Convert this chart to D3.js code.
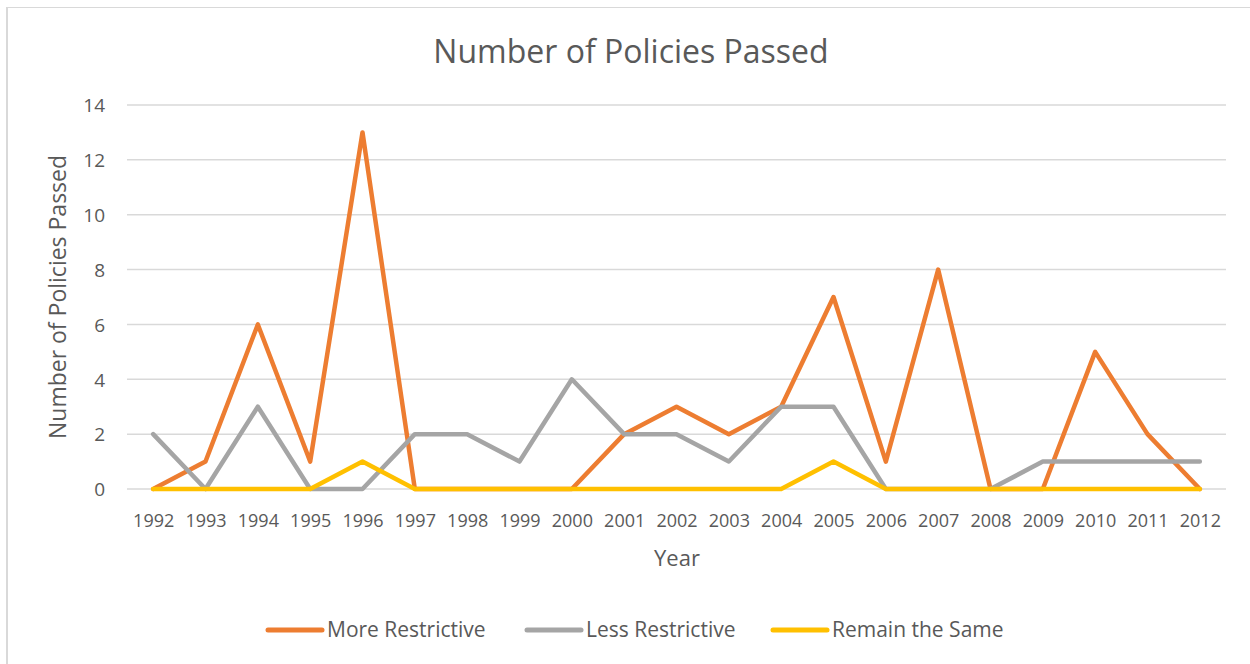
<!DOCTYPE html>
<html><head><meta charset="utf-8">
<script src="https://cdn.jsdelivr.net/npm/d3@7"></script>
<style>body{margin:0;background:#fff;}text{font-family:"Open Sans",sans-serif;fill:#595959;}</style>
</head><body>
<svg id="c" width="1250" height="664"></svg>
<script>
const years = ["1992","1993","1994","1995","1996","1997","1998","1999","2000","2001","2002","2003","2004","2005","2006","2007","2008","2009","2010","2011","2012"];
const moreRestrictive = [0,1,6,1,13,0,0,0,0,2,3,2,3,7,1,8,0,0,5,2,0];
const lessRestrictive = [2,0,3,0,0,2,2,1,4,2,2,1,3,3,0,0,0,1,1,1,1];
const remainSame = [0,0,0,0,1,0,0,0,0,0,0,0,0,1,0,0,0,0,0,0,0];
const yTicks = [0,2,4,6,8,10,12,14];
const seriesNames = ["More Restrictive","Less Restrictive","Remain the Same"];
const colors = ["#ED7D31","#A5A5A5","#FFC000"];
const series = [moreRestrictive, lessRestrictive, remainSame];

const svg = d3.select("#c");
// chart border (right/bottom edges fall outside the view)
svg.append("line").attr("x1",7).attr("x2",7).attr("y1",7).attr("y2",664).attr("stroke","#d9d9d9").attr("stroke-width",2);
svg.append("line").attr("x1",6).attr("x2",1250).attr("y1",7.5).attr("y2",7.5).attr("stroke","#d9d9d9").attr("stroke-width",1);

const x = d3.scalePoint().domain(years).range([127,1226]).padding(0.5);
const y = d3.scaleLinear().domain([0,14]).range([489,105]);

// grid
svg.append("g").selectAll("line").data(yTicks).join("line")
  .attr("x1",127).attr("x2",1226).attr("y1",d=>y(d)).attr("y2",d=>y(d))
  .attr("stroke","#d9d9d9").attr("stroke-width",1.5);

// y axis
const ya = svg.append("g").attr("transform","translate(127,0)")
  .call(d3.axisLeft(y).tickValues(yTicks).tickSize(0).tickPadding(22));
ya.select(".domain").remove();
ya.selectAll("text").style("font-size","19px").attr("dy","0.36em").style("fill","#595959").style("font-family","Open Sans");

// x axis
const xa = svg.append("g").attr("transform","translate(0,489)")
  .call(d3.axisBottom(x).tickSize(0).tickPadding(25));
xa.select(".domain").remove();
xa.selectAll("text").style("font-size","18px").style("fill","#595959").style("font-family","Open Sans").attr("dy","0.71em");

// lines
const line = d3.line().x((d,i)=>x(years[i])).y(d=>y(d));
series.forEach((s,k)=>{
  svg.append("path").datum(s).attr("d",line).attr("fill","none")
    .attr("stroke",colors[k]).attr("stroke-width",4.5).attr("stroke-linejoin","round").attr("stroke-linecap","round");
});

// titles
svg.append("text").attr("x",631).attr("y",63).attr("text-anchor","middle").style("font-size","32px").text("Number of Policies Passed");
svg.append("text").attr("transform","translate(66,297) rotate(-90)").attr("text-anchor","middle").style("font-size","23px").text("Number of Policies Passed");
svg.append("text").attr("x",677).attr("y",566).attr("text-anchor","middle").style("font-size","22px").text("Year");

// legend
const legX = [268,527,773];
seriesNames.forEach((n,k)=>{
  svg.append("line").attr("x1",legX[k]).attr("x2",legX[k]+54).attr("y1",630).attr("y2",630)
    .attr("stroke",colors[k]).attr("stroke-width",5).attr("stroke-linecap","round");
  svg.append("text").attr("x",legX[k]+59).attr("y",637).style("font-size","21px").text(n);
});
</script>
</body></html>
